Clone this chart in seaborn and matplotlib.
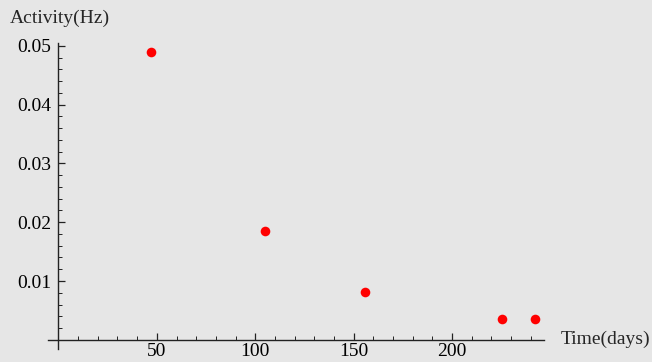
import numpy as np
import pandas as pd
import matplotlib
matplotlib.use("Agg")
import matplotlib.pyplot as plt
import seaborn as sns
from matplotlib.ticker import FixedLocator

# Data
time_days = [47, 105, 156, 225.5, 242]
activity_hz = [0.0489, 0.0185, 0.0082, 0.0035, 0.0035]
x_ticks = [50, 100, 150, 200]
y_ticks = [0.01, 0.02, 0.03, 0.04, 0.05]
y_tick_labels = ["0.01", "0.02", "0.03", "0.04", "0.05"]

df = pd.DataFrame({"Time(days)": time_days, "Activity(Hz)": activity_hz})

sns.set_style("white")
plt.rcParams['font.family'] = ['Liberation Serif', 'DejaVu Serif']
bg = '#e6e6e6'

fig = plt.figure(figsize=(6.52, 3.62), dpi=100, facecolor=bg)
W, H = 652, 362
ax = fig.add_axes([48 / W, 1 - 349 / H, (544 - 48) / W, (349 - 43) / H])
ax.set_facecolor(bg)

sns.scatterplot(data=df, x="Time(days)", y="Activity(Hz)", ax=ax,
                color='#ff0000', s=48, linewidth=0, zorder=5, clip_on=False)

ax.set_xlim(-5.3, 246.7)
ax.set_ylim(-0.00157, 0.0505)

for side in ['top', 'right']:
    ax.spines[side].set_visible(False)
ax.spines['left'].set_position(('data', 0))
ax.spines['bottom'].set_position(('data', 0))
for side in ['left', 'bottom']:
    ax.spines[side].set_color('#222222')
    ax.spines[side].set_linewidth(1.0)

ax.xaxis.set_major_locator(FixedLocator(x_ticks))
ax.xaxis.set_minor_locator(FixedLocator([v for v in range(10, 250, 10) if v not in x_ticks]))
ax.yaxis.set_major_locator(FixedLocator(y_ticks))
ax.set_yticklabels(y_tick_labels)
ax.yaxis.set_minor_locator(FixedLocator([round(0.002 * i, 4) for i in range(1, 26) if i % 5 != 0]))

ax.tick_params(axis='both', which='both', bottom=True, left=True, top=False, right=False)
ax.tick_params(axis='both', which='major', direction='in', length=5, width=0.9,
               color='#222222', labelsize=14, labelcolor='black')
ax.tick_params(axis='both', which='minor', direction='in', length=3, width=0.7,
               color='#222222')
ax.tick_params(axis='x', which='major', pad=2.5)
ax.tick_params(axis='y', which='major', pad=5)

ax.set_xlabel('')
ax.set_ylabel('')

fig.text(10 / W, 1 - 18 / H, "Activity(Hz)", fontsize=14, ha='left', va='center')
fig.text(561 / W, 1 - 339 / H, "Time(days)", fontsize=14, ha='left', va='center')

fig.savefig("out.png", dpi=100, facecolor=bg)
